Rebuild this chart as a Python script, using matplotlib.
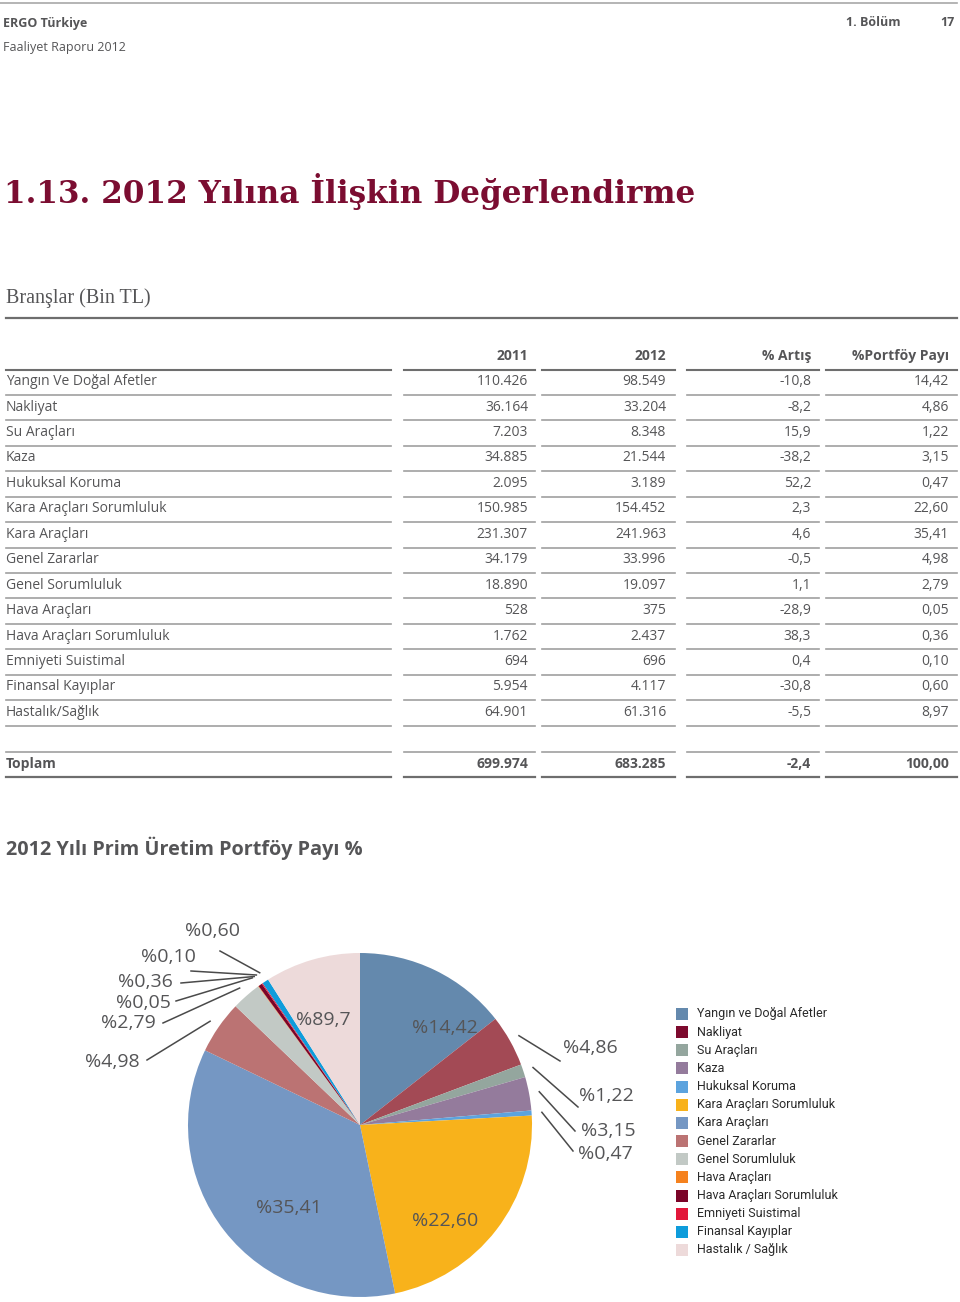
import numpy as np
import matplotlib.pyplot as plt
from matplotlib.patches import Rectangle

# --- Data -------------------------------------------------------------
branches = ['Yangın Ve Doğal Afetler', 'Nakliyat', 'Su Araçları', 'Kaza',
            'Hukuksal Koruma', 'Kara Araçları Sorumluluk', 'Kara Araçları',
            'Genel Zararlar', 'Genel Sorumluluk', 'Hava Araçları',
            'Hava Araçları Sorumluluk', 'Emniyeti Suistimal',
            'Finansal Kayıplar', 'Hastalık/Sağlık']
prem_2011 = [110426, 36164, 7203, 34885, 2095, 150985, 231307, 34179,
             18890, 528, 1762, 694, 5954, 64901]
prem_2012 = [98549, 33204, 8348, 21544, 3189, 154452, 241963, 33996,
             19097, 375, 2437, 696, 4117, 61316]
growth = [-10.8, -8.2, 15.9, -38.2, 52.2, 2.3, 4.6, -0.5, 1.1, -28.9,
          38.3, 0.4, -30.8, -5.5]
share = [14.42, 4.86, 1.22, 3.15, 0.47, 22.60, 35.41, 4.98, 2.79, 0.05,
         0.36, 0.10, 0.60, 8.97]
total_2011 = 699974
total_2012 = 683285
total_growth = -2.4
total_share = 100.00

col_headers = ['2011', '2012', '% Artış', '%Portföy Payı']

# pie labels as printed on the chart (incl. the "%89,7" typo)
pie_labels = ['%14,42', '%4,86', '%1,22', '%3,15', '%0,47', '%22,60', '%35,41',
              '%4,98', '%2,79', '%0,05', '%0,36', '%0,10', '%0,60', '%89,7']
legend_labels = ['Yangın ve Doğal Afetler', 'Nakliyat', 'Su Araçları', 'Kaza',
                 'Hukuksal Koruma', 'Kara Araçları Sorumluluk', 'Kara Araçları',
                 'Genel Zararlar', 'Genel Sorumluluk', 'Hava Araçları',
                 'Hava Araçları Sorumluluk', 'Emniyeti Suistimal',
                 'Finansal Kayıplar', 'Hastalık / Sağlık']
pie_colors = ['#6489ad', '#a34a55', '#94a69e', '#947b9c', '#5ca3de', '#f8b21b',
              '#7597c3', '#bb7373', '#c2c9c5', '#f5821f', '#7b0428', '#e2173a',
              '#0e9cdb', '#eddada']
legend_colors = pie_colors.copy()
legend_colors[1] = '#7d0a2e'


def tr_int(n):
    return f"{n:,}".replace(',', '.')


def tr_dec(x, d):
    return f"{x:.{d}f}".replace('.', ',')


GRAY = '#555557'
MAROON = '#7b0d31'
BODY = 'Open Sans'

fig = plt.figure(figsize=(9.6, 13.02), dpi=100)

# pie axes first (underneath), page axes on top in pixel coordinates
CX, CY, R = 360, 1125, 172
pax = fig.add_axes([0, 0, 1, 1])
pax.patch.set_alpha(0)
pax.pie(share, colors=pie_colors, startangle=90, counterclock=False,
        radius=1, wedgeprops=dict(linewidth=0))
pax.set_aspect('auto')
pax.set_xlim(-CX / R, (960 - CX) / R)
pax.set_ylim(-(1302 - CY) / R, CY / R)
pax.axis('off')

ax = fig.add_axes([0, 0, 1, 1])
ax.set_zorder(2)
ax.set_xlim(0, 960)
ax.set_ylim(1302, 0)
ax.axis('off')

# --- page header ------------------------------------------------------
ax.plot([0, 957], [3, 3], color='#a8a8a8', lw=1.2)
ax.text(3, 23, 'ERGO Türkiye', fontsize=9, fontweight='bold', color=GRAY,
        family=BODY, va='center')
ax.text(3, 48, 'Faaliyet Raporu 2012', fontsize=9, color=GRAY, family=BODY,
        va='center')
ax.text(900, 23, '1. Bölüm', fontsize=9, fontweight='bold', color=GRAY,
        family=BODY, va='center', ha='right')
ax.text(955, 23, '17', fontsize=9, fontweight='bold', color=GRAY,
        family=BODY, va='center', ha='right')

ax.text(4, 191, '1.13. 2012 Yılına İlişkin Değerlendirme', fontsize=22.4,
        fontweight='bold', color=MAROON, family='DejaVu Serif', va='center')
ax.text(6, 298, 'Branşlar (Bin TL)', fontsize=14.5, color=GRAY,
        family='Liberation Serif', va='center')
ax.plot([6, 957], [318, 318], color='#6e6e6e', lw=1.6)

# --- table ------------------------------------------------------------
cols = [(6, 391), (404, 535), (542, 675), (687, 819), (826, 957)]
right_edges = [528, 666, 811, 949]
row0, step = 381.7, 25.43
TS = 10

for xr, head in zip(right_edges, col_headers):
    ax.text(xr, 356, head, fontsize=TS, fontweight='bold', color=GRAY,
            family=BODY, ha='right', va='center')

for (x0, x1) in cols:
    ax.plot([x0, x1], [369.5, 369.5], color='#6e6e6e', lw=1.5)
    for i in range(len(branches)):
        yl = row0 + step * i + 13.3
        ax.plot([x0, x1], [yl, yl], color='#a0a0a0', lw=1.2)
    ax.plot([x0, x1], [751.5, 751.5], color='#a0a0a0', lw=1.2)
    ax.plot([x0, x1], [777, 777], color='#6e6e6e', lw=1.6)

for i, name in enumerate(branches):
    y = row0 + step * i
    vals = [tr_int(prem_2011[i]), tr_int(prem_2012[i]),
            tr_dec(growth[i], 1), tr_dec(share[i], 2)]
    ax.text(6, y, name, fontsize=TS, color=GRAY, family=BODY, va='center')
    for xr, v in zip(right_edges, vals):
        ax.text(xr, y, v, fontsize=TS, color=GRAY, family=BODY,
                ha='right', va='center')

ytot = 764
ax.text(6, ytot, 'Toplam', fontsize=TS, fontweight='bold', color=GRAY,
        family=BODY, va='center')
tot_vals = [tr_int(total_2011), tr_int(total_2012), tr_dec(total_growth, 1),
            tr_dec(total_share, 2)]
for xr, v in zip(right_edges, tot_vals):
    ax.text(xr, ytot, v, fontsize=TS, fontweight='bold', color=GRAY,
            family=BODY, ha='right', va='center')

# --- pie labels -------------------------------------------------------
ax.text(6, 848, '2012 Yılı Prim Üretim Portföy Payı %', fontsize=14.3,
        fontweight='bold', color=GRAY, family=BODY, va='center')

share_arr = np.array(share)
mid = np.cumsum(share_arr) - share_arr / 2
mid_rad = np.deg2rad(90 - mid / share_arr.sum() * 360)

# inside labels: index -> pixel position
inside_pos = {0: (445, 1028), 13: (323, 1020), 6: (289, 1208), 5: (445, 1221)}
for i, (x, y) in inside_pos.items():
    ax.text(x, y, pie_labels[i], fontsize=14, color=GRAY, family=BODY,
            ha='center', va='center')

# outside labels: index -> (text x, text y, leader end x, leader end y)
outside_pos = {
    1: (590, 1048, 560, 1061),
    2: (606, 1096, 578, 1107),
    3: (608, 1131, 575, 1131),
    4: (605, 1154, 573, 1151),
    7: (112, 1062, 147, 1060),
    8: (128, 1023, 163, 1023),
    9: (143, 1003, 176, 1001),
    10: (145, 982, 181, 983),
    11: (168, 957, 191, 971),
    12: (213, 931, 220, 951),
}
for i, (tx, ty, lx, ly) in outside_pos.items():
    sx = CX + 1.06 * R * np.cos(mid_rad[i])
    sy = CY - 1.06 * R * np.sin(mid_rad[i])
    ax.plot([sx, lx], [sy, ly], color='#4a4a4a', lw=1.1)
    ax.text(tx, ty, pie_labels[i], fontsize=14, color=GRAY, family=BODY,
            ha='center', va='center')

# --- legend -----------------------------------------------------------
leg_y0, leg_step = 1014, 18.15
for i, (lab, c) in enumerate(zip(legend_labels, legend_colors)):
    y = leg_y0 + leg_step * i
    ax.add_patch(Rectangle((676, y - 6), 12, 12, color=c, lw=0))
    ax.text(697, y, lab, fontsize=9, color='#2a2a2a', family='Roboto',
            va='center')

fig.savefig('out.png', dpi=100)
